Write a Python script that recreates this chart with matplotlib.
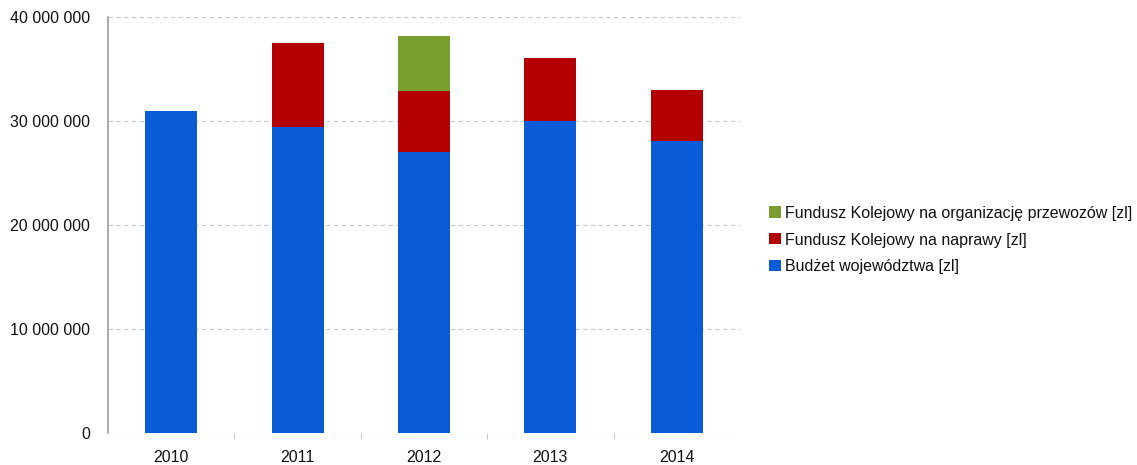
import matplotlib.pyplot as plt
import numpy as np

plt.rcParams['font.family'] = ['Liberation Sans', 'DejaVu Sans']

years = ['2010', '2011', '2012', '2013', '2014']
budzet = [31.0e6, 29.4e6, 27.0e6, 30.0e6, 28.1e6]
naprawy = [0, 8.1e6, 5.9e6, 6.1e6, 4.9e6]
przewozy = [0, 0, 5.3e6, 0, 0]

labels = ['Budżet województwa [zl]',
          'Fundusz Kolejowy na naprawy [zl]',
          'Fundusz Kolejowy na organizację przewozów [zl]']
colors = ['#0a5bd6', '#b30000', '#7a9e2e']

fig = plt.figure(figsize=(11.37, 4.65), dpi=100)
ax = fig.add_axes([108 / 1137, 32 / 465, 632 / 1137, 416 / 465])

x = np.arange(len(years))
w = 0.41
b1 = ax.bar(x, budzet, w, color=colors[0], label=labels[0], zorder=3)
b2 = ax.bar(x, naprawy, w, bottom=budzet, color=colors[1], label=labels[1], zorder=3)
bottom2 = np.array(budzet) + np.array(naprawy)
b3 = ax.bar(x, przewozy, w, bottom=bottom2, color=colors[2], label=labels[2], zorder=3)

ax.set_xlim(-0.5, 4.5)
ax.set_ylim(0, 40e6)
ax.set_yticks([0, 10e6, 20e6, 30e6, 40e6])
ax.set_yticklabels(['0', '10 000 000', '20 000 000', '30 000 000', '40 000 000'])
ax.set_xticks(x)
ax.set_xticklabels(years)
ax.set_xticks(np.arange(0.5, 4.5, 1), minor=True)

ax.grid(axis='y', color='#c8c8c8', linestyle=(0, (4, 3)), linewidth=0.8, zorder=0)
for s in ['top', 'right', 'bottom']:
    ax.spines[s].set_visible(False)
ax.spines['left'].set_color('#9a9a9a')
ax.spines['left'].set_linewidth(1.2)

ax.tick_params(axis='y', length=0, pad=13, labelsize=11.5, labelcolor='#111111')
ax.tick_params(axis='x', which='major', length=0, pad=12.5, labelsize=11.5, labelcolor='#111111')
ax.tick_params(axis='x', which='minor', length=4, color='#bbbbbb')

handles = [b3, b2, b1]
fig.legend(handles, [h.get_label() for h in handles], loc='center left',
           bbox_to_anchor=(755 / 1137, 1 - 240 / 465), frameon=False,
           fontsize=11.5, handlelength=0.7, handleheight=0.7, handletextpad=0.3,
           labelspacing=0.75, labelcolor='#111111')

fig.savefig('out.png', dpi=100)
